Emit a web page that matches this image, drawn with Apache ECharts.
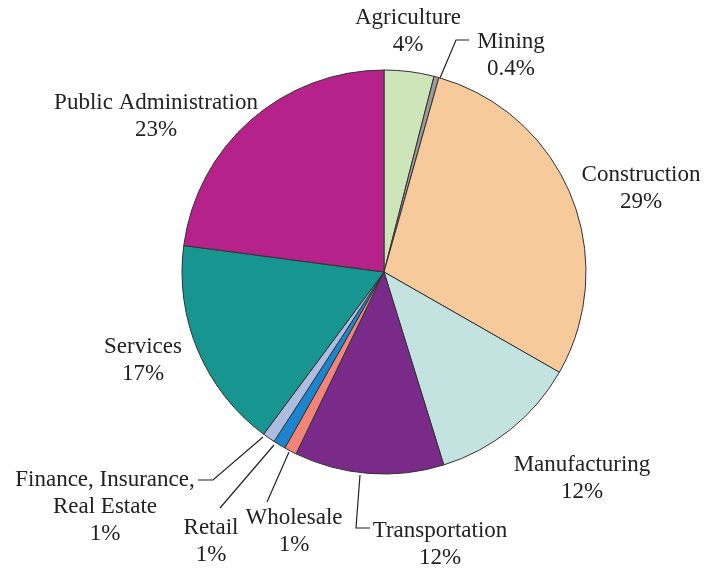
<!DOCTYPE html>
<html>
<head>
<meta charset="utf-8">
<script src="https://cdn.jsdelivr.net/npm/echarts@6/dist/echarts.min.js"></script>
<style>
  html, body { margin: 0; padding: 0; background: #fff; }
  #chart { width: 716px; height: 569px; }
</style>
</head>
<body>
<div id="chart"></div>
<script>
// Employment share by industry (percent)
const sectors = [
  'Agriculture', 'Mining', 'Construction', 'Manufacturing', 'Transportation',
  'Wholesale', 'Retail', 'Finance, Insurance,\nReal Estate', 'Services', 'Public Administration'
];
const shares = [4, 0.4, 29, 12, 12, 1, 1, 1, 17, 23];
const sliceColors = [
  '#cde5b9', '#9a9a9a', '#f7ca9c', '#c3e3e0', '#7a2a88',
  '#f2847a', '#1b86cf', '#afbce1', '#169591', '#b4228a'
];

// Where each label block sits, and the guide line (if any) leading to it
const labelSpots = [
  { x: 408, y: 31 },
  { x: 511, y: 55, line: [[440, 78], [456, 40], [469, 40]] },
  { x: 641, y: 188 },
  { x: 582, y: 478 },
  { x: 440, y: 544, line: [[360, 475], [356, 528], [370, 528]] },
  { x: 294, y: 531, line: [[289, 452], [267, 502]] },
  { x: 211, y: 541, line: [[274, 445], [220, 508]] },
  { x: 105, y: 507, line: [[263, 437], [213, 480], [198, 480]] },
  { x: 143, y: 360 },
  { x: 156, y: 116 }
];

const pieData = sectors.map((name, i) => ({
  name: name,
  value: shares[i],
  itemStyle: { color: sliceColors[i] },
  labelLine: { show: !!labelSpots[i].line }
}));

const chart = echarts.init(document.getElementById('chart'), null, { renderer: 'canvas' });
chart.setOption({
  animation: false,
  backgroundColor: '#ffffff',
  series: [{
    type: 'pie',
    center: [384, 272],
    radius: 202,
    startAngle: 90,
    clockwise: true,
    avoidLabelOverlap: false,
    itemStyle: { borderColor: '#333333', borderWidth: 1 },
    label: {
      show: true,
      position: 'outside',
      formatter: p => p.name + '\n' + p.value + '%',
      fontFamily: '"Liberation Serif", "DejaVu Serif", serif',
      fontSize: 23,
      lineHeight: 27,
      color: '#222222',
      align: 'center'
    },
    labelLine: {
      lineStyle: { color: '#222222', width: 1.2 }
    },
    labelLayout: function (params) {
      const spot = labelSpots[params.dataIndex];
      const out = {
        x: spot.x,
        y: spot.y,
        align: 'center',
        verticalAlign: 'middle',
        hideOverlap: false
      };
      if (spot.line) out.labelLinePoints = spot.line;
      return out;
    },
    emphasis: { disabled: true },
    data: pieData
  }]
});
</script>
</body>
</html>
